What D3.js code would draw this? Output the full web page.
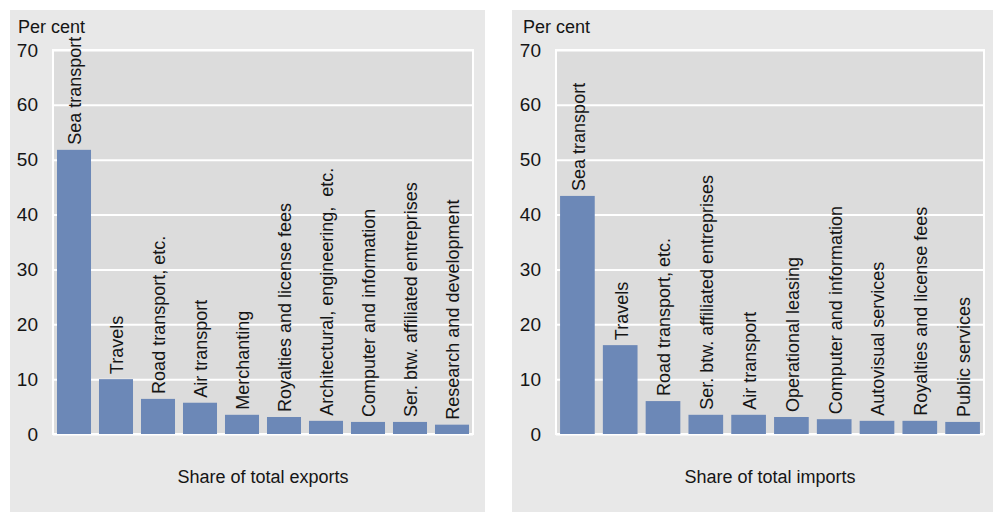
<!DOCTYPE html>
<html><head><meta charset="utf-8">
<script src="https://cdn.jsdelivr.net/npm/d3@7"></script>
<style>body{margin:0;background:#fff;} svg{display:block;}</style>
</head><body>
<svg id="c" width="997" height="513"></svg>
<script>
const exportCategories = ["Sea transport","Travels","Road transport, etc.","Air transport","Merchanting","Royalties and license fees","Architectural, engineering,\u00a0 etc.","Computer and information","Ser. btw. affiliated entreprises","Research and development"];
const exportValues = [51.8, 10.0, 6.4, 5.7, 3.5, 3.1, 2.4, 2.2, 2.2, 1.7];
const importCategories = ["Sea transport","Travels","Road transport, etc.","Ser. btw. affiliated entreprises","Air transport","Operational leasing","Computer and information","Autovisual services","Royalties and license fees","Public services"];
const importValues = [43.4, 16.2, 6.0, 3.5, 3.5, 3.1, 2.7, 2.4, 2.4, 2.2];
const yTicks = [0,10,20,30,40,50,60,70];
const yLabel = "Per cent";
const exportTitle = "Share of total exports";
const importTitle = "Share of total imports";

const svg = d3.select("#c");
const FONT = "'Liberation Sans', Arial, sans-serif";
const BAR = "#6c88b7";
const TXT = "#151515";

function panel(cfg){
  const g = svg.append("g");
  g.append("rect").attr("x",cfg.px).attr("y",10).attr("width",cfg.pw).attr("height",502).attr("fill","#e8e8e8");
  const y = d3.scaleLinear().domain([0,70]).range([434,50]);
  const x = d3.scaleBand().domain(cfg.cats).range([cfg.x0,cfg.x1]).paddingInner(0.19).paddingOuter(0.095);
  g.append("rect").attr("x",cfg.x0).attr("y",y(70)).attr("width",cfg.x1-cfg.x0).attr("height",y(0)-y(70))
    .attr("fill","#dcdcdc").attr("stroke","#fff").attr("stroke-width",2);
  const ax = g.append("g").attr("transform",`translate(${cfg.x0},0)`)
    .call(d3.axisLeft(y).tickValues(yTicks).tickSize(-(cfg.x1-cfg.x0)).tickPadding(15));
  ax.select(".domain").remove();
  ax.selectAll(".tick line").attr("stroke","#fff").attr("stroke-width",2);
  ax.selectAll(".tick text").attr("font-family",FONT).attr("font-size",19).attr("fill",TXT);
  g.selectAll("rect.bar").data(cfg.vals).join("rect").attr("class","bar")
    .attr("x",(d,i)=>x(cfg.cats[i])).attr("width",x.bandwidth())
    .attr("y",d=>y(d)).attr("height",d=>y(0)-y(d)).attr("fill",BAR);
  g.selectAll("text.lbl").data(cfg.vals).join("text").attr("class","lbl")
    .attr("transform",(d,i)=>`translate(${x(cfg.cats[i])+x.bandwidth()/2+1},${y(d)-5}) rotate(-90)`)
    .attr("dy","0.35em").attr("font-family",FONT).attr("font-size",18).attr("fill",TXT)
    .text((d,i)=>cfg.cats[i]);
  g.append("text").attr("x",cfg.lx).attr("y",33).attr("font-family",FONT).attr("font-size",18).attr("fill",TXT).text(yLabel);
  g.append("text").attr("x",(cfg.x0+cfg.x1)/2).attr("y",483).attr("text-anchor","middle")
    .attr("font-family",FONT).attr("font-size",18).attr("fill",TXT).text(cfg.title);
}
panel({px:10,pw:475,lx:18,x0:53,x1:473,cats:exportCategories,vals:exportValues,title:exportTitle});
panel({px:512,pw:481,lx:523,x0:556,x1:984,cats:importCategories,vals:importValues,title:importTitle});
</script>
</body></html>
